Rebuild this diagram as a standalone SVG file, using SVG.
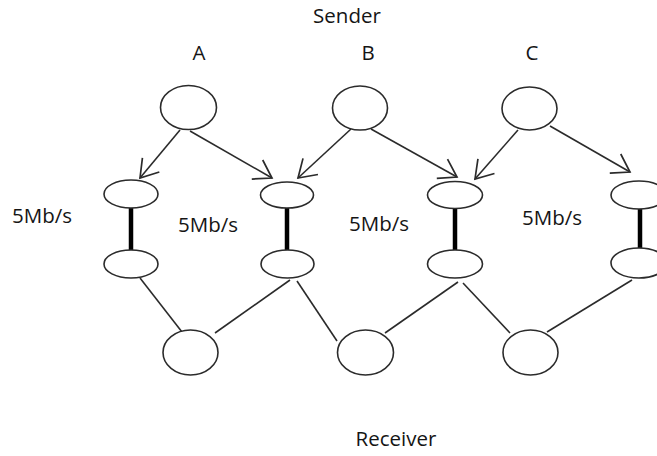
<svg xmlns="http://www.w3.org/2000/svg" width="657" height="456" viewBox="0 0 657 456">
  <defs>
    <marker id="open-arrow" markerUnits="userSpaceOnUse" markerWidth="24" markerHeight="26" viewBox="0 0 24 26" refX="20" refY="13" orient="auto">
      <path d="M3,2 L20,13 L3,24" fill="none" stroke="#2b2b2b" stroke-width="1.7"/>
    </marker>
  </defs>
  <style>
    .node { fill: #ffffff; stroke: #2b2b2b; stroke-width: 1.6; }
    .arrow { stroke: #2b2b2b; stroke-width: 1.6; fill: none; marker-end: url(#open-arrow); }
    .link { stroke: #2b2b2b; stroke-width: 1.6; fill: none; }
    .bottleneck { stroke: #000000; stroke-width: 4.5; }
    .label { font-family: "Open Sans", "DejaVu Sans", sans-serif; font-size: 20.5px; fill: #151515; }
  </style>
  <rect width="657" height="456" fill="#ffffff"/>

  <!-- titles -->
  <text class="label" x="347" y="23" text-anchor="middle">Sender</text>
  <text class="label" x="199" y="60" text-anchor="middle">A</text>
  <text class="label" x="368" y="60" text-anchor="middle">B</text>
  <text class="label" x="532" y="60" text-anchor="middle">C</text>
  <text class="label" x="396" y="446" text-anchor="middle">Receiver</text>

  <!-- link capacity labels -->
  <text class="label" x="42" y="223" text-anchor="middle">5Mb/s</text>
  <text class="label" x="208" y="232" text-anchor="middle">5Mb/s</text>
  <text class="label" x="379" y="231" text-anchor="middle">5Mb/s</text>
  <text class="label" x="552" y="225" text-anchor="middle">5Mb/s</text>

  <!-- connectors -->
  <g id="connectors">
    <line class="arrow" x1="180" y1="130" x2="140" y2="178"/>
    <line class="arrow" x1="190" y1="131" x2="272" y2="178"/>
    <line class="arrow" x1="351" y1="129" x2="298" y2="178"/>
    <line class="arrow" x1="371" y1="129" x2="457" y2="177"/>
    <line class="arrow" x1="518" y1="130" x2="475" y2="179"/>
    <line class="arrow" x1="550" y1="126" x2="630" y2="172"/>

    <line class="bottleneck" x1="131" y1="208" x2="131" y2="250"/>
    <line class="bottleneck" x1="287" y1="208" x2="287" y2="250"/>
    <line class="bottleneck" x1="455" y1="208" x2="455" y2="250"/>
    <line class="bottleneck" x1="640" y1="209" x2="640" y2="248"/>

    <line class="link" x1="140" y1="278" x2="182" y2="332"/>
    <line class="link" x1="215" y1="333" x2="290" y2="280"/>
    <line class="link" x1="297" y1="281" x2="337" y2="341"/>
    <line class="link" x1="385" y1="333" x2="458" y2="282"/>
    <line class="link" x1="463" y1="283" x2="510" y2="333"/>
    <line class="link" x1="547" y1="332" x2="632" y2="280"/>
  </g>

  <!-- senders -->
  <g id="sender-a"><ellipse class="node" cx="188.5" cy="107.5" rx="28" ry="22"/></g>
  <g id="sender-b"><ellipse class="node" cx="360" cy="108" rx="27.5" ry="22"/></g>
  <g id="sender-c"><ellipse class="node" cx="529.5" cy="108.5" rx="27.5" ry="21.5"/></g>

  <!-- router pairs -->
  <g id="router-1-top"><ellipse class="node" cx="131" cy="194" rx="27" ry="14"/></g>
  <g id="router-1-bottom"><ellipse class="node" cx="131" cy="264" rx="27" ry="14"/></g>
  <g id="router-2-top"><ellipse class="node" cx="287" cy="195" rx="26.5" ry="13"/></g>
  <g id="router-2-bottom"><ellipse class="node" cx="287.5" cy="264" rx="26.5" ry="14"/></g>
  <g id="router-3-top"><ellipse class="node" cx="455" cy="195" rx="27.5" ry="13.5"/></g>
  <g id="router-3-bottom"><ellipse class="node" cx="455" cy="264" rx="27.5" ry="14"/></g>
  <g id="router-4-top"><ellipse class="node" cx="639" cy="195" rx="28" ry="14"/></g>
  <g id="router-4-bottom"><ellipse class="node" cx="639" cy="263" rx="28" ry="15"/></g>

  <!-- receivers -->
  <g id="receiver-1"><ellipse class="node" cx="190.5" cy="352.5" rx="27.5" ry="22.5"/></g>
  <g id="receiver-2"><ellipse class="node" cx="365.5" cy="352.5" rx="28" ry="22.5"/></g>
  <g id="receiver-3"><ellipse class="node" cx="530.5" cy="352.5" rx="27.5" ry="22.5"/></g>
</svg>
